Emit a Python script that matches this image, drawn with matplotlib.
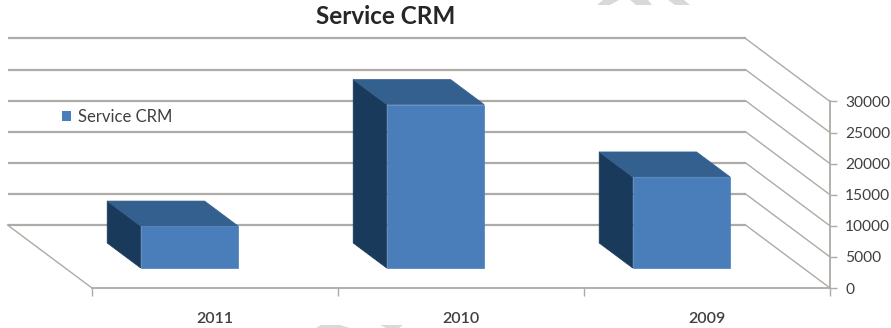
import matplotlib
matplotlib.use('Agg')
import matplotlib.pyplot as plt
from matplotlib.patches import Patch, Polygon

years = ['2011', '2010', '2009']
revenue = [6750, 26300, 14650]
y_ticks = [0, 5000, 10000, 15000, 20000, 25000, 30000]

FRONT = '#4a7ebb'
TOP = '#33608f'
SIDE = '#1a3a5c'
GRID = '#aeaaa6'
TEXT = '#404040'
STAMP = '#d9d9d9'

plt.rcParams['font.family'] = ['Lato', 'DejaVu Sans']

fig = plt.figure(figsize=(8.91, 3.28), dpi=100)
# front edge of the floor and the value axis sit on the axes frame
ax = fig.add_axes([92 / 891, 1 - 288 / 328, 738 / 891, 186.5 / 328])
ax.set_xlim(0, 3)
ax.set_ylim(0, 30000)

# the box recedes up and to the left
DEPTH_X = -84.5 / 246
DEPTH_Y = 63 / 186.5 * 30000


def proj(x, v, d):
    return (x + d * DEPTH_X, v + d * DEPTH_Y)


def face(points, color, z):
    ax.add_patch(Polygon([proj(*p) for p in points], closed=True, facecolor=color,
                         edgecolor=color, linewidth=0.5, clip_on=False, zorder=z))


def stamp(points):
    # pale stamp strokes along the top and bottom edges, in pixels
    fig.add_artist(Polygon([(x / 891, 1 - y / 328) for x, y in points], closed=True,
                           facecolor=STAMP, edgecolor='none', transform=fig.transFigure))


stamp([(603, 0), (619, 0), (610, 5), (597, 5)])
stamp([(630, 0), (648, 0), (652, 5), (636, 5)])
stamp([(668, 0), (684, 0), (690, 5), (675, 5)])
stamp([(321, 325), (340, 325), (350, 328), (316, 328)])
stamp([(380, 325), (403, 325), (399, 328), (386, 328)])

# walls and floor
for v in y_ticks:
    xs, ys = zip(proj(3, v, 0), proj(3, v, 1), proj(0, v, 1))
    ax.plot(xs[:2], ys[:2], color=GRID, lw=1.0, clip_on=False, zorder=1, solid_capstyle='butt')
    ax.plot(xs[1:], ys[1:], color=GRID, lw=1.6, clip_on=False, zorder=1, solid_capstyle='butt')
xs, ys = zip(proj(0, 0, 1), proj(0, 0, 0))
ax.plot(xs, ys, color=GRID, lw=1.0, clip_on=False, zorder=1)

# bars
bar_w = 0.396
front_d = 0.317
back_d = 0.714
for i, v in enumerate(revenue):
    x0 = i + 0.307
    x1 = x0 + bar_w
    face([(x0, 0, back_d), (x0, v, back_d), (x0, v, front_d), (x0, 0, front_d)], SIDE, 3)
    face([(x0, v, front_d), (x0, v, back_d), (x1, v, back_d), (x1, v, front_d)], TOP, 3)
    face([(x0, 0, front_d), (x1, 0, front_d), (x1, v, front_d), (x0, v, front_d)], FRONT, 4)

# axes
for s in ['top', 'left']:
    ax.spines[s].set_visible(False)
for s in ['bottom', 'right']:
    ax.spines[s].set_color(GRID)
    ax.spines[s].set_linewidth(1.3)
ax.yaxis.tick_right()
ax.set_yticks(y_ticks)
ax.set_xticks([0, 1, 2, 3])
ax.set_xticklabels([])
ax.set_xticks([0.5, 1.5, 2.5], minor=True)
ax.set_xticklabels(years, minor=True, fontsize=11.5, color=TEXT, fontweight='semibold')
ax.tick_params(axis='x', which='major', length=6, width=1.0, color=GRID)
ax.tick_params(axis='x', which='minor', length=0, pad=17)
ax.tick_params(axis='y', length=5, width=1.0, color=GRID, labelsize=11.2, labelcolor=TEXT, pad=6)
ax.patch.set_alpha(0)

ax.legend(handles=[Patch(facecolor=FRONT, label='Service CRM')], frameon=False,
          loc='center left', bbox_to_anchor=(47 / 891, 1 - 117 / 328),
          bbox_transform=fig.transFigure, fontsize=12, labelcolor=TEXT,
          handlelength=0.55, handleheight=0.55, handletextpad=0.4)

fig.text(386 / 891, 1 - 17 / 328, 'Service CRM', ha='center', va='center',
         fontsize=17.5, fontweight='bold', color='#262626')

fig.savefig('out.png', dpi=100)
